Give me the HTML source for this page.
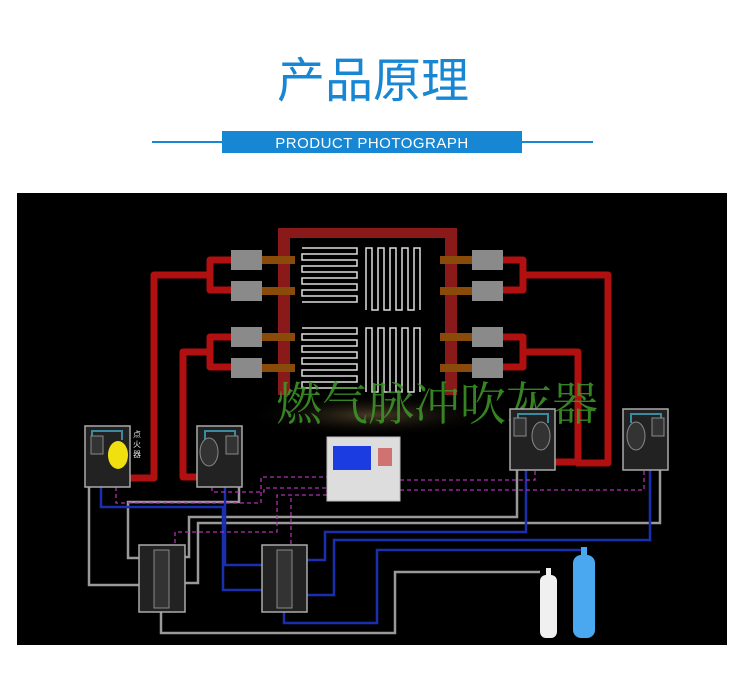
<!DOCTYPE html>
<html><head><meta charset="utf-8"><style>
html,body{margin:0;padding:0;background:#fff;width:747px;height:690px;overflow:hidden}
</style></head><body>
<svg width="747" height="690" xmlns="http://www.w3.org/2000/svg" style="position:absolute;left:0;top:0">
<text x="373" y="97" text-anchor="middle" font-family="Liberation Sans, Noto Sans CJK SC, sans-serif" font-size="48" fill="#1787d4">产品原理</text>
<rect x="152" y="141" width="441" height="2" fill="#1787d4"/>
<rect x="222" y="131" width="300" height="22" fill="#1787d4"/>
<text x="372" y="148" text-anchor="middle" font-family="Liberation Sans, sans-serif" font-size="15" fill="#fff" letter-spacing="0.5">PRODUCT PHOTOGRAPH</text>
<rect x="17" y="193" width="710" height="452" fill="#000"/>
<defs><radialGradient id="g" cx="0.5" cy="0.5" r="0.5"><stop offset="0" stop-color="#5a4a30" stop-opacity="0.8"/><stop offset="1" stop-color="#000" stop-opacity="0"/></radialGradient></defs>
<ellipse cx="372" cy="415" rx="130" ry="22" fill="url(#g)"/>
<rect x="278" y="228" width="179" height="10" fill="#8a1a1a"/>
<rect x="278" y="228" width="12" height="167" fill="#8a1a1a"/>
<rect x="445" y="228" width="12" height="167" fill="#8a1a1a"/>
<g fill="none" stroke="#ddd" stroke-width="1.5">
<path d="M302 248h55v6h-55v6h55v6h-55v6h55v6h-55v6h55v6h-55v6h55v6h-55"/>
<path d="M302 328h55v6h-55v6h55v6h-55v6h55v6h-55v6h55v6h-55v6h55v6h-55v6h55"/>
<path d="M366 310v-62h6v62h6v-62h6v62h6v-62h6v62h6v-62h6v62h6v-62h6v62"/>
<path d="M366 392v-64h6v64h6v-64h6v64h6v-64h6v64h6v-64h6v64h6v-64h6v64"/>
</g>
<g fill="none" stroke="#b01010" stroke-width="7" stroke-linejoin="round">
<path d="M232 260h-22v30h22M210 275h-56v203h-28"/>
<path d="M232 337h-22v30h22M210 352h-27v125h25"/>
<path d="M503 260h20v30h-20M523 275h85v188h-32"/>
<path d="M503 337h20v30h-20M523 352h55v110h-30"/>
</g>
<g fill="#8a4a0a">
<rect x="262" y="256" width="33" height="8"/><rect x="262" y="287" width="33" height="8"/>
<rect x="262" y="333" width="33" height="8"/><rect x="262" y="364" width="33" height="8"/>
<rect x="440" y="256" width="33" height="8"/><rect x="440" y="287" width="33" height="8"/>
<rect x="440" y="333" width="33" height="8"/><rect x="440" y="364" width="33" height="8"/>
</g>
<g fill="#8a8a8a">
<rect x="231" y="250" width="31" height="20"/><rect x="231" y="281" width="31" height="20"/>
<rect x="231" y="327" width="31" height="20"/><rect x="231" y="358" width="31" height="20"/>
<rect x="472" y="250" width="31" height="20"/><rect x="472" y="281" width="31" height="20"/>
<rect x="472" y="327" width="31" height="20"/><rect x="472" y="358" width="31" height="20"/>
</g>
<text x="437" y="420" text-anchor="middle" font-family="Liberation Serif, Noto Serif CJK SC, serif" font-size="46" fill="#3f9a2a" opacity="0.85">燃气脉冲吹灰器</text>
<g fill="none" stroke="#999" stroke-width="2.5">
<path d="M89 487v98h50"/>
<path d="M239 487v15h-111v56h11"/>
<path d="M185 557h4v-40h328v-47"/>
<path d="M185 583h13v-60h462v-53"/>
<path d="M161 612v21h234v-61h145"/>
</g>
<g fill="none" stroke="#1a2fb0" stroke-width="2.5">
<path d="M101 440v67h122v83h39"/>
<path d="M225 440v125h37"/>
<path d="M307 560h18v-28h201v-100"/>
<path d="M307 595h27v-55h316v-110"/>
<path d="M284 612v11h93v-73h206"/>
</g>
<g fill="none" stroke="#b030b0" stroke-width="1.3" stroke-dasharray="4,3">
<path d="M116 487v16h145v-26h66"/>
<path d="M212 487v5h52v-4h63"/>
<path d="M400 480h135v-10"/>
<path d="M400 490h244v-20"/>
<path d="M327 495h-50v37h-102v13M291 498v47"/>
</g>
<g fill="#222" stroke="#aaa" stroke-width="1.5">
<rect x="85" y="426" width="45" height="61"/><rect x="197" y="426" width="45" height="61"/>
<rect x="510" y="409" width="45" height="61"/><rect x="623" y="409" width="45" height="61"/>
<rect x="139" y="545" width="46" height="67"/><rect x="262" y="545" width="45" height="67"/>
</g>
<g fill="none" stroke="#3a8aa0" stroke-width="2">
<path d="M92 440v-9h30v9"/><path d="M205 440v-9h30v9"/><path d="M518 423v-9h30v9"/><path d="M631 423v-9h30v9"/>
</g>
<g fill="#333" stroke="#888" stroke-width="1">
<rect x="91" y="436" width="12" height="18"/><rect x="226" y="436" width="12" height="18"/>
<rect x="514" y="418" width="12" height="18"/><rect x="652" y="418" width="12" height="18"/>
<rect x="154" y="550" width="15" height="58"/><rect x="277" y="550" width="15" height="58"/>
<ellipse cx="209" cy="452" rx="9" ry="14"/><ellipse cx="541" cy="436" rx="9" ry="14"/><ellipse cx="636" cy="436" rx="9" ry="14"/>
</g>
<ellipse cx="118" cy="455" rx="10" ry="14" fill="#f0e010"/>
<text font-family="Liberation Sans, Noto Sans CJK SC, sans-serif" font-size="8" fill="#ddd"><tspan x="133" y="437">点</tspan><tspan x="133" y="447">火</tspan><tspan x="133" y="457">器</tspan></text>
<rect x="327" y="437" width="73" height="64" fill="#ddd" stroke="#bbb"/>
<rect x="333" y="446" width="38" height="24" fill="#1a3ce0"/>
<rect x="378" y="448" width="14" height="18" fill="#c44" opacity="0.7"/>
<rect x="540" y="575" width="17" height="63" rx="6" fill="#f0f0f0"/>
<rect x="546" y="568" width="5" height="10" fill="#f0f0f0"/>
<rect x="573" y="555" width="22" height="83" rx="8" fill="#4aa8f0"/>
<rect x="581" y="547" width="6" height="10" fill="#4aa8f0"/>
</svg>
</body></html>
